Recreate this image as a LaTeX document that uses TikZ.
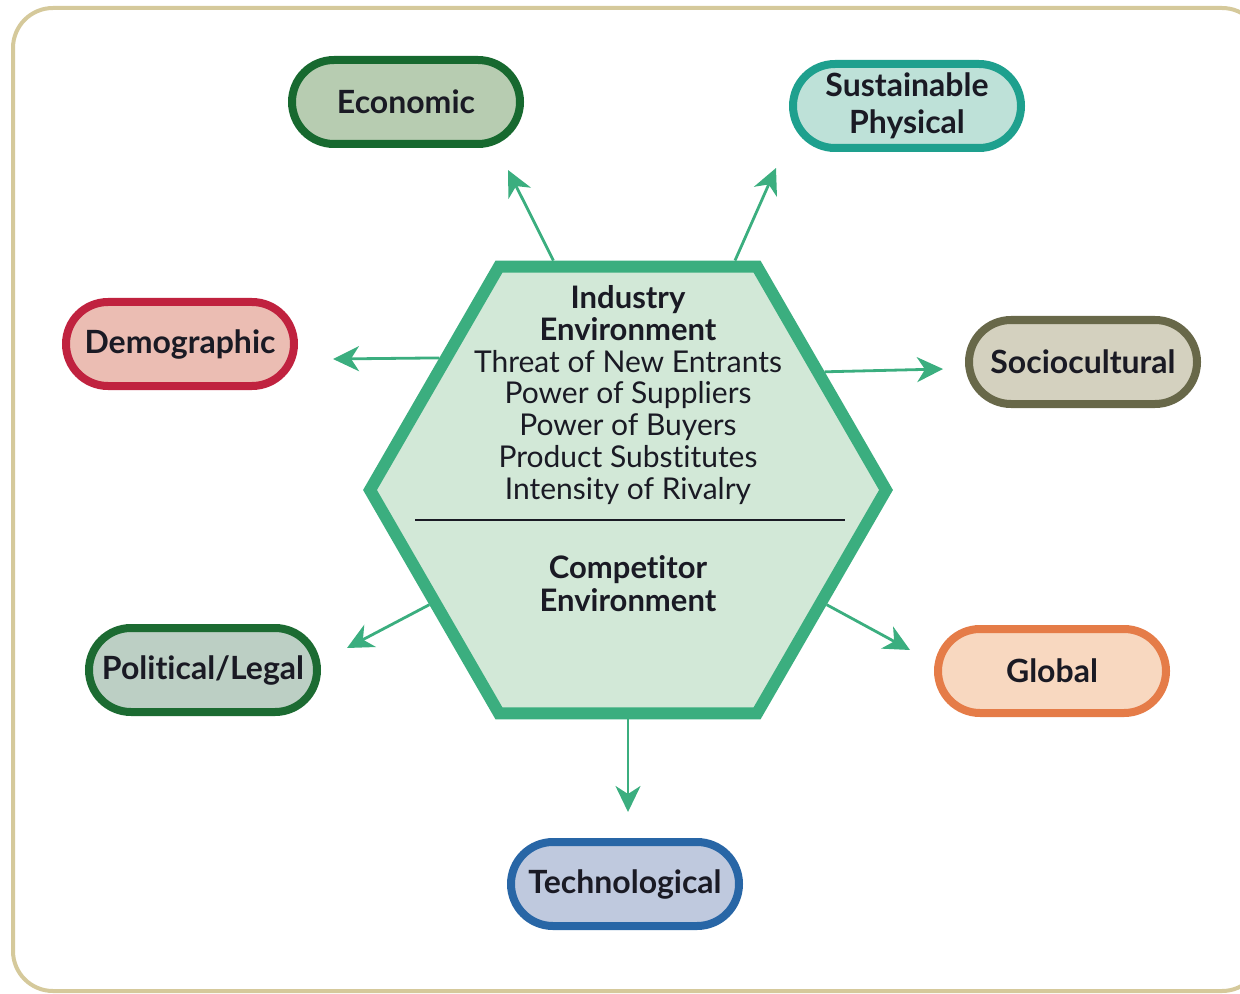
\documentclass[tikz,border=0pt]{standalone}
\usepackage{fontspec}
\setmainfont{Lato}[Ligatures={NoCommon}]
\usetikzlibrary{shapes.geometric,arrows.meta}
\definecolor{frame}{HTML}{D5C99B}
\definecolor{hexgreen}{HTML}{3BAE7F}
\definecolor{hexfill}{HTML}{D2E8D7}
\definecolor{txt}{HTML}{1A1A24}
\definecolor{econB}{HTML}{17692F}\definecolor{econF}{HTML}{B7CCB1}
\definecolor{sustB}{HTML}{1EA08E}\definecolor{sustF}{HTML}{BEE1D8}
\definecolor{demoB}{HTML}{C0223F}\definecolor{demoF}{HTML}{EBBDB3}
\definecolor{socB}{HTML}{686849}\definecolor{socF}{HTML}{D4D1BF}
\definecolor{polB}{HTML}{1C6B32}\definecolor{polF}{HTML}{BCCFC4}
\definecolor{globB}{HTML}{E57C48}\definecolor{globF}{HTML}{F8D8C0}
\definecolor{techB}{HTML}{2866A6}\definecolor{techF}{HTML}{BFC9DE}
\tikzset{
  pill/.style={draw=#1B, fill=#1F, line width=4pt, rounded corners=21pt,
    minimum width=114pt, minimum height=42pt, inner sep=0pt, align=center,
    text=txt, font=\fontsize{16}{18}\selectfont\bfseries},
  arr/.style={draw=hexgreen, line width=1.4pt, -{Stealth[length=13pt,width=12.5pt,inset=4pt]}},
  hextext/.style={align=center, text=txt, inner sep=0pt}
}
\begin{document}
\begin{tikzpicture}[x=0.5pt,y=-0.5pt]
\useasboundingbox (0,0) rectangle (1240,994);
\draw[frame, line width=2pt, rounded corners=20pt] (13,8) rectangle (1262,991);
% hexagon
\node[regular polygon, regular polygon sides=6, minimum size=258pt, inner sep=0pt,
  draw=hexgreen, fill=hexfill, line width=6pt] (hex) at (628,490) {};
\draw[txt, line width=1.1pt] (415,520) -- (845,520);
\node[hextext, font=\fontsize{15}{15.9}\selectfont] (ind) at (628,395)
  {{\fontsize{15.5}{15.9}\selectfont\bfseries Industry}\\ {\fontsize{15.5}{15.9}\selectfont\bfseries Environment}\\ Threat of New Entrants\\ Power of Suppliers\\ Power of Buyers\\ Product Substitutes\\ Intensity of Rivalry};
\node[hextext, font=\fontsize{15.5}{16.5}\selectfont\bfseries] (comp) at (628,584)
  {Competitor\\ Environment};
% pills
\node[pill=econ] (econ) at (406,102) {Economic};
\node[pill=sust, font=\fontsize{16}{18.5}\selectfont\bfseries] (sust) at (907,106) {Sustainable\\ Physical};
\node[pill=demo] (demo) at (180,344) {Demographic};
\node[pill=soc] (soc) at (1083,362) {Sociocultural};
\node[pill=pol] (pol) at (203,670) {Political/Legal};
\node[pill=glob] (glob) at (1052,671) {Global};
\node[pill=tech] (tech) at (625,884) {Technological};
% arrow tips
\coordinate (tE) at (508,170);
\coordinate (tS) at (776,168);
\coordinate (tD) at (333,359);
\coordinate (tC) at (943,369);
\coordinate (tP) at (347,648);
\coordinate (tG) at (910,650);
\coordinate (tT) at (628,812);
\draw[arr] (hex.108.4) -- (tE);
\draw[arr] (hex.65.9) -- (tS);
\draw[arr] (hex.145.6) -- (tD);
\draw[arr] (hex.31.2) -- (tC);
\draw[arr] (hex.210.1) -- (tP);
\draw[arr] (hex.330.1) -- (tG);
\draw[arr] (hex.270) -- (tT);
\end{tikzpicture}
\end{document}
